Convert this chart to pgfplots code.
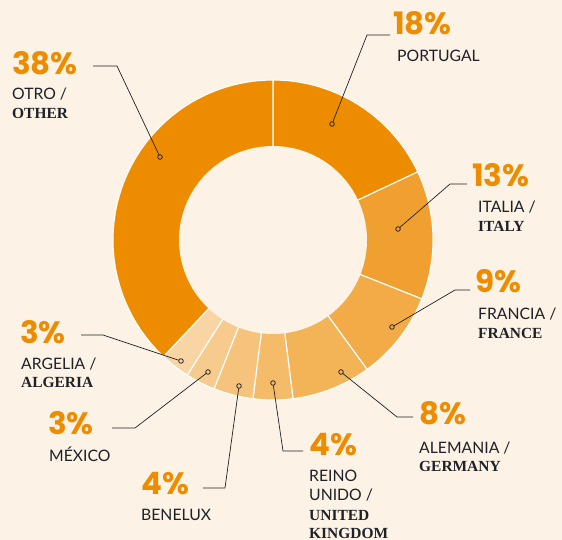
\documentclass[border=0pt]{standalone}
\usepackage{pgfplots}
\pgfplotsset{compat=1.18}
\usepackage{fontspec}
\setmainfont{Lato}
\newfontfamily\pctfont{Poppins}
\newfontfamily\serfont{Liberation Serif}
\definecolor{bg}{HTML}{FCF2E5}
\definecolor{dark}{HTML}{1E2126}
\definecolor{orng}{HTML}{EE8C00}
\definecolor{cPor}{HTML}{EE8C00}
\definecolor{cIta}{HTML}{F0A030}
\definecolor{cFra}{HTML}{F2AB46}
\definecolor{cAle}{HTML}{F3B357}
\definecolor{cUK}{HTML}{F4BB69}
\definecolor{cBen}{HTML}{F5C37B}
\definecolor{cMex}{HTML}{F7CB8D}
\definecolor{cArg}{HTML}{F8D5A2}
\definecolor{cOtr}{HTML}{EE8C00}
% cumulative shares (percent): start end
\newcommand{\slice}[3]{%
  \addplot[fill=#3, draw=white, line width=1.1pt, domain={3.6*#1}:{3.6*#2}, samples=60, variable=\t]
    ({273+160*sin(t)},{300+160*cos(t)}) -- (axis cs:273,300) -- cycle;}
\newcommand{\pct}[3]{\node[anchor=base west, inner sep=0pt, text=orng] at (axis cs:#1,#2) {\pctfont\bfseries\fontsize{31}{31}\selectfont #3};}
\newcommand{\lab}[3]{\node[anchor=base west, inner sep=0pt, text=dark] at (axis cs:#1,#2) {\fontsize{15.8}{15.8}\selectfont #3};}
\newcommand{\slab}[3]{\node[anchor=base west, inner sep=0pt, text=dark] at (axis cs:#1,#2) {\serfont\bfseries\fontsize{15.5}{15.5}\selectfont #3};}
\begin{document}
\begin{tikzpicture}
\fill[bg] (0,0) rectangle (562bp,540bp);
\begin{axis}[at={(0,0)}, anchor=south west, width=562bp, height=540bp, scale only axis,
  xmin=0, xmax=562, ymin=0, ymax=540, hide axis, clip=false]
% shares: Portugal 18, Italia 13, Francia 9, Alemania 8, Reino Unido 4, Benelux 4, Mexico 3, Argelia 3, Otro 38
\slice{0}{18}{cPor}
\slice{18}{31}{cIta}
\slice{31}{40}{cFra}
\slice{40}{48}{cAle}
\slice{48}{52}{cUK}
\slice{52}{56}{cBen}
\slice{56}{59}{cMex}
\slice{59}{62}{cArg}
\slice{62}{100}{cOtr}
\addplot[fill=bg, draw=none, domain=0:360, samples=150, variable=\t] ({273+94*sin(t)},{300+94*cos(t)}) -- cycle;
% leader lines
\addplot[dark, line width=0.7pt, shorten <=2.4pt] coordinates {(160,383) (117,474) (93,474)};
\addplot[dark, line width=0.7pt, shorten <=2.4pt] coordinates {(332,416) (367,505) (390,505)};
\addplot[dark, line width=0.7pt, shorten <=2.4pt] coordinates {(398,311) (450,356) (467,356)};
\addplot[dark, line width=0.7pt, shorten <=2.4pt] coordinates {(392,213) (455,250) (470,250)};
\addplot[dark, line width=0.7pt, shorten <=2.4pt] coordinates {(341,168) (397,123) (413,123)};
\addplot[dark, line width=0.7pt, shorten <=2.4pt] coordinates {(273,157) (283,89) (303,89)};
\addplot[dark, line width=0.7pt, shorten <=2.4pt] coordinates {(239,154) (225,52) (203,52)};
\addplot[dark, line width=0.7pt, shorten <=2.4pt] coordinates {(208,168) (135,112) (112,112)};
\addplot[dark, line width=0.7pt, shorten <=2.4pt] coordinates {(181,179) (103,205) (81,205)};
\addplot[only marks, mark=o, mark size=2.3pt, mark options={draw=dark, line width=0.8pt}]
  coordinates {(160,383) (332,416) (398,311) (392,213) (341,168) (273,157) (239,154) (208,168) (181,179)};
% labels
\pct{12}{465}{38\%}
\lab{12}{440}{OTRO /}
\slab{12}{421}{OTHER}
\pct{393}{505}{18\%}
\lab{397}{478}{PORTUGAL}
\pct{472}{354}{13\%}
\lab{478}{328}{ITALIA /}
\slab{478}{309}{ITALY}
\pct{475}{248}{9\%}
\lab{478}{221}{FRANCIA /}
\slab{478}{202}{FRANCE}
\pct{419}{116}{8\%}
\lab{419}{87}{ALEMANIA /}
\slab{419}{69}{GERMANY}
\pct{309}{85}{4\%}
\lab{309}{59}{REINO}
\lab{309}{40}{UNIDO /}
\slab{309}{20}{UNITED}
\slab{309}{2}{KINGDOM}
\pct{141}{46}{4\%}
\lab{141}{20}{BENELUX}
\pct{48}{106}{3\%}
\lab{49}{79}{MÉXICO}
\pct{20}{197}{3\%}
\lab{21}{171}{ARGELIA /}
\slab{21}{153}{ALGERIA}
\end{axis}
\end{tikzpicture}
\end{document}
